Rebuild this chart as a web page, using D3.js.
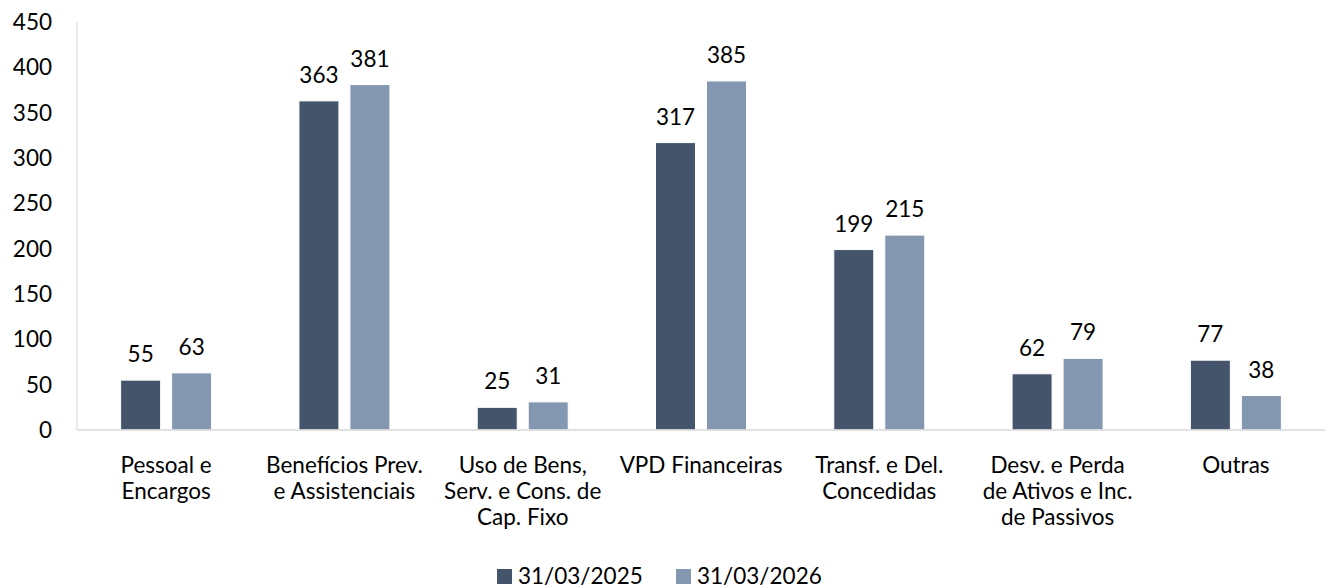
<!DOCTYPE html>
<html>
<head>
<meta charset="utf-8">
<script src="https://cdn.jsdelivr.net/npm/d3@7"></script>
<style>
  body { margin: 0; background: #fff; }
  text { font-family: Lato, "Open Sans", sans-serif; fill: #000; }
</style>
</head>
<body>
<svg id="chart" width="1332" height="588"></svg>
<script>
const categories = [
  ["Pessoal e", "Encargos"],
  ["Benefícios Prev.", "e Assistenciais"],
  ["Uso de Bens,", "Serv. e Cons. de", "Cap. Fixo"],
  ["VPD Financeiras"],
  ["Transf. e Del.", "Concedidas"],
  ["Desv. e Perda", "de Ativos e Inc.", "de Passivos"],
  ["Outras"]
];
const seriesNames = ["31/03/2025", "31/03/2026"];
const values2025 = [55, 363, 25, 317, 199, 62, 77];
const values2026 = [63, 381, 31, 385, 215, 79, 38];
const yTicks = [0, 50, 100, 150, 200, 250, 300, 350, 400, 450];
const colors = ["#44546a", "#8497b0"];

const svg = d3.select("#chart");
const margin = { left: 77, right: 1325, top: 22, bottom: 430 };
const fs = 22.5;

const x = d3.scaleBand()
  .domain(d3.range(categories.length))
  .range([margin.left, margin.right])
  .paddingInner(0).paddingOuter(0);

const y = d3.scaleLinear().domain([0, 450]).range([margin.bottom, margin.top]);

const barW = 40, gap = 11;

// y axis labels
svg.append("g").selectAll("text")
  .data(yTicks)
  .join("text")
  .attr("x", 52)
  .attr("y", d => y(d))
  .attr("dy", "0.35em")
  .attr("text-anchor", "end")
  .attr("font-size", fs)
  .text(d => d);

// axis lines
svg.append("line")
  .attr("x1", margin.left).attr("x2", margin.left)
  .attr("y1", margin.top).attr("y2", margin.bottom)
  .attr("stroke", "#d9d9d9").attr("stroke-width", 1);

const data = categories.map((c, i) => ({ i, vals: [values2025[i], values2026[i]] }));

const groups = svg.append("g").selectAll("g")
  .data(data)
  .join("g")
  .attr("transform", d => `translate(${x(d.i) + x.bandwidth() / 2},0)`);

groups.selectAll("rect")
  .data(d => d.vals.map((v, s) => ({ v, s })))
  .join("rect")
  .attr("x", d => d.s === 0 ? -(gap / 2 + barW) : gap / 2)
  .attr("y", d => y(d.v))
  .attr("width", barW)
  .attr("height", d => y(0) - y(d.v))
  .attr("fill", d => colors[d.s])
  .attr("stroke", "#fff")
  .attr("stroke-width", 1);

groups.selectAll("text.val")
  .data(d => d.vals.map((v, s) => ({ v, s })))
  .join("text")
  .attr("class", "val")
  .attr("x", d => d.s === 0 ? -(gap / 2 + barW / 2) : gap / 2 + barW / 2)
  .attr("y", d => y(d.v) - 18)
  .attr("text-anchor", "middle")
  .attr("font-size", fs)
  .text(d => d.v);

svg.append("line")
  .attr("x1", margin.left).attr("x2", margin.right)
  .attr("y1", margin.bottom).attr("y2", margin.bottom)
  .attr("stroke", "#d9d9d9").attr("stroke-width", 1.5);

// category labels
const catLabels = svg.append("g").selectAll("text")
  .data(categories.map((c, i) => ({ c, i })))
  .join("text")
  .attr("text-anchor", "middle")
  .attr("font-size", fs)
  .attr("transform", d => `translate(${x(d.i) + x.bandwidth() / 2},473)`);
catLabels.selectAll("tspan")
  .data(d => d.c)
  .join("tspan")
  .attr("x", 0)
  .attr("y", (d, j) => j * 26)
  .text(d => d);

// legend
const legendX = [497, 676];
const legend = svg.append("g").selectAll("g")
  .data(seriesNames)
  .join("g")
  .attr("transform", (d, i) => `translate(${legendX[i]},576)`);
legend.append("rect")
  .attr("x", 0).attr("y", -7)
  .attr("width", 15).attr("height", 15)
  .attr("fill", (d, i) => colors[i]);
legend.append("text")
  .attr("x", 21)
  .attr("dy", "0.35em")
  .attr("font-size", fs)
  .text(d => d);
</script>
</body>
</html>
